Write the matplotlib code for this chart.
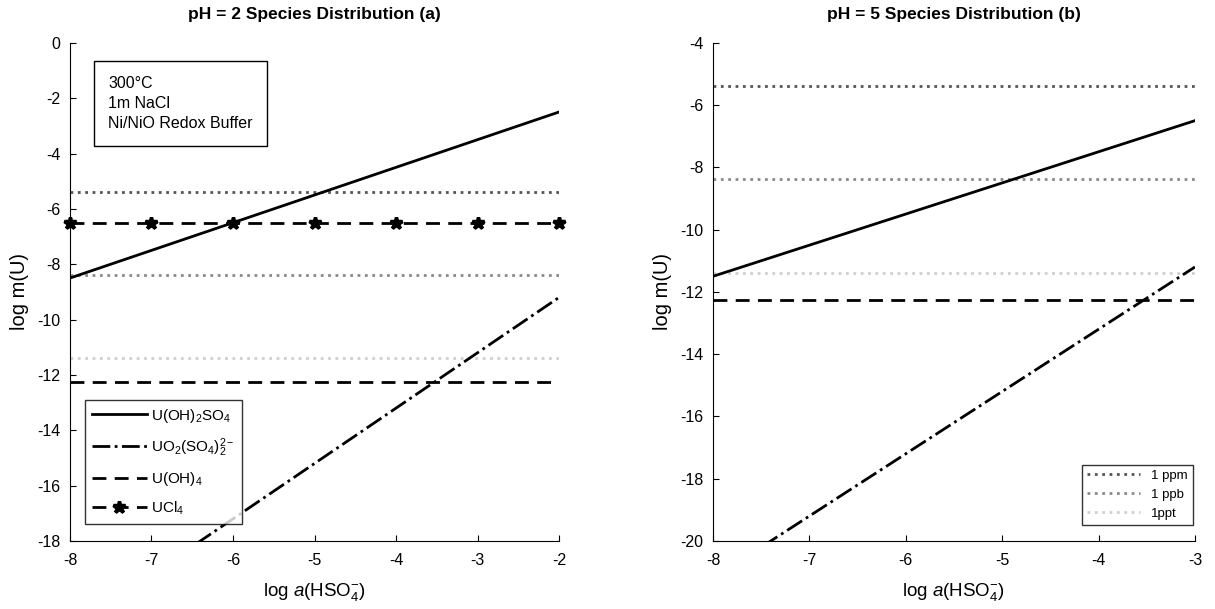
import numpy as np
import matplotlib
matplotlib.use("Agg")
import matplotlib.pyplot as plt

plt.rcParams['font.family'] = ['Liberation Sans', 'DejaVu Sans']
plt.rcParams['mathtext.fontset'] = 'custom'
plt.rcParams['mathtext.rm'] = 'Liberation Sans'
plt.rcParams['mathtext.it'] = 'Liberation Sans:italic'
plt.rcParams['axes.unicode_minus'] = False

# panel (a), pH = 2
x_a = [-8, -2]
uoh2so4_a = [-8.5, -2.5]
uo2so4_a = [-21.2, -9.2]
uoh4_a = [-12.25, -12.25]
ucl4_x = [-8, -7, -6, -5, -4, -3, -2]
ucl4_a = [-6.5, -6.5, -6.5, -6.5, -6.5, -6.5, -6.5]

# panel (b), pH = 5
x_b = [-8, -3]
uoh2so4_b = [-11.5, -6.5]
uo2so4_b = [-21.2, -11.2]
uoh4_b = [-12.25, -12.25]

# reference concentrations
ref_labels = ['1 ppm', '1 ppb', '1ppt']
ref_values = [-5.38, -8.38, -11.38]
ref_colors = ['#555555', '#8a8a8a', '#cfcfcf']

xlabel = r'log $\it{a}$(HSO$_4^{-}$)'

fig = plt.figure(figsize=(12.15, 6.09), dpi=100)
ax1 = fig.add_axes([0.0576, 0.1117, 0.4025, 0.818])
ax2 = fig.add_axes([0.5868, 0.1117, 0.3967, 0.818])

for ax in (ax1, ax2):
    ax.spines['top'].set_visible(False)
    ax.spines['right'].set_visible(False)
    ax.tick_params(direction='in', labelsize=11.5, length=4)
    ax.tick_params(axis='x', pad=9)
    ax.tick_params(axis='y', pad=7)

# ---- (a)
for v, c in zip(ref_values, ref_colors):
    ax1.axhline(v, color=c, ls=':', lw=2)
ax1.plot(x_a, uoh2so4_a, 'k-', lw=2, label=r'U(OH)$_2$SO$_4$')
ax1.plot(x_a, uo2so4_a, 'k-.', lw=2, label=r'UO$_2$(SO$_4$)$_2^{2-}$')
ax1.plot(x_a, uoh4_a, 'k--', lw=2, dashes=(5, 3), label=r'U(OH)$_4$')
ax1.plot(ucl4_x, ucl4_a, 'k--', lw=2, dashes=(5, 3), marker='*', ms=9, mew=2.5,
         label=r'UCl$_4$', clip_on=False)
ax1.set_xlim(-8, -2)
ax1.set_ylim(-18, 0)
ax1.set_yticks(np.arange(-18, 1, 2))
ax1.set_xlabel(xlabel, fontsize=13.5, labelpad=9)
ax1.set_ylabel('log m(U)', fontsize=14.5, labelpad=6)
ax1.set_title('pH = 2 Species Distribution (a)', fontsize=12.5, fontweight='bold', pad=17)
leg1 = ax1.legend(loc='lower left', bbox_to_anchor=(0.03, 0.034), fontsize=11,
                  frameon=True, fancybox=False, edgecolor='black', handlelength=3.6,
                  handletextpad=0.3, labelspacing=0.75, borderpad=0.45, borderaxespad=0)
leg1.get_frame().set_linewidth(1)
ax1.text(0.078, 0.934, '300°C\n1m NaCl\nNi/NiO Redox Buffer', transform=ax1.transAxes,
         fontsize=11.5, va='top', ha='left', linespacing=1.45,
         bbox=dict(boxstyle='square,pad=0.9', fc='white', ec='black', lw=1))

# ---- (b)
for lab, v, c in zip(ref_labels, ref_values, ref_colors):
    ax2.axhline(v, color=c, ls=':', lw=2, label=lab)
ax2.plot(x_b, uoh2so4_b, 'k-', lw=2)
ax2.plot(x_b, uo2so4_b, 'k-.', lw=2)
ax2.plot(x_b, uoh4_b, 'k--', lw=2, dashes=(5, 3))
ax2.set_xlim(-8, -3)
ax2.set_ylim(-20, -4)
ax2.set_yticks(np.arange(-20, -3, 2))
ax2.set_xlabel(xlabel, fontsize=13.5, labelpad=9)
ax2.set_ylabel('log m(U)', fontsize=14.5, labelpad=6)
ax2.set_title('pH = 5 Species Distribution (b)', fontsize=12.5, fontweight='bold', pad=17)
leg2 = ax2.legend(loc='lower right', bbox_to_anchor=(0.995, 0.032), fontsize=9.5,
                  frameon=True, fancybox=False, edgecolor='black', handlelength=4,
                  borderaxespad=0)
leg2.get_frame().set_linewidth(1)

fig.savefig('out.png', dpi=100)
